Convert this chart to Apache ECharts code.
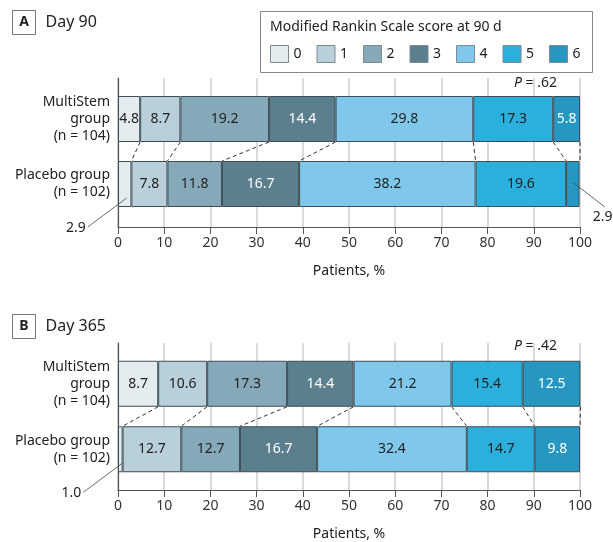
<!DOCTYPE html>
<html>
<head>
<meta charset="utf-8">
<script src="https://cdn.jsdelivr.net/npm/echarts@6/dist/echarts.min.js"></script>
<style>
  html, body { margin: 0; padding: 0; background: #fff; }
  #chart { width: 613px; height: 542px; }
</style>
</head>
<body>
<div id="chart"></div>
<script>
// data
var groups = ['MultiStem\ngroup\n(n = 104)', 'Placebo group\n(n = 102)'];
var scores = ['0', '1', '2', '3', '4', '5', '6'];
var day90Multi = [4.8, 8.7, 19.2, 14.4, 29.8, 17.3, 5.8];
var day90Placebo = [2.9, 7.8, 11.8, 16.7, 38.2, 19.6, 2.9];
var day365Multi = [8.7, 10.6, 17.3, 14.4, 21.2, 15.4, 12.5];
var day365Placebo = [1.0, 12.7, 12.7, 16.7, 32.4, 14.7, 9.8];
var pValues = ['.62', '.42'];

var colors = ['#e5ecf0', '#b9cfd9', '#85a9b8', '#5b7f8d', '#7fc8ec', '#2bb0de', '#2597c0'];
var labelColors = ['#222', '#222', '#222', '#fff', '#222', '#222', '#fff'];
var FONT = 'Noto Sans';
var BAR_W = 46;
var SMALL = 4; // segments narrower than this get a callout

var chart = echarts.init(document.getElementById('chart'));

function cumulative(arr) {
    var out = [], s = 0;
    arr.forEach(function (v) { s += v; out.push(Math.round(s * 10) / 10); });
    return out;
}

// dashed lines joining the boundaries of the two bars
function connectorData(multi, placebo) {
    var a = cumulative(multi), b = cumulative(placebo);
    return a.map(function (v, i) { return [v, 0, i == a.length - 1 ? 100 : b[i]]; });
}

function calloutData(placebo) {
    var c = cumulative(placebo), out = [];
    placebo.forEach(function (v, i) {
        if (v < SMALL) out.push([c[i] - v / 2, 1, v, i == 0 ? -1 : 1]);
    });
    return out;
}

function renderConnector(params, api) {
    var p1 = api.coord([api.value(0), 0]);
    var p2 = api.coord([api.value(2), 1]);
    return {
        type: 'line',
        shape: { x1: p1[0], y1: p1[1] + BAR_W / 2, x2: p2[0], y2: p2[1] - BAR_W / 2 },
        style: { stroke: '#333', lineWidth: 1, lineDash: [4, 3] }
    };
}

function renderCallout(params, api) {
    var p = api.coord([api.value(0), 1]);
    var dir = api.value(3);
    var txt = api.value(2).toFixed(1);
    if (dir < 0) {
        return {
            type: 'group',
            children: [
                { type: 'line', shape: { x1: p[0] + 2, y1: p[1] + 14, x2: p[0] - 37, y2: p[1] + 43 },
                  style: { stroke: '#444', lineWidth: 0.8 } },
                { type: 'text', x: p[0] - 39, y: p[1] + 44,
                  style: { text: txt, fill: '#222', font: '14px ' + FONT, align: 'right', verticalAlign: 'middle' } }
            ]
        };
    }
    return {
        type: 'group',
        children: [
            { type: 'line', shape: { x1: p[0] + 1, y1: p[1] - 1, x2: p[0] + 32, y2: p[1] + 23 },
              style: { stroke: '#444', lineWidth: 0.8 } },
            { type: 'text', x: p[0] + 20, y: p[1] + 33,
              style: { text: txt, fill: '#222', font: '14px ' + FONT, align: 'left', verticalAlign: 'middle' } }
        ]
    };
}

function barSeries(multi, placebo, axisIdx, stack) {
    return scores.map(function (s, i) {
        return {
            name: s,
            type: 'bar',
            stack: stack,
            xAxisIndex: axisIdx,
            yAxisIndex: axisIdx,
            barWidth: BAR_W,
            itemStyle: { color: colors[i], borderColor: '#3d4d56', borderWidth: 1 },
            label: {
                show: true,
                position: 'inside',
                color: labelColors[i],
                fontFamily: FONT,
                fontSize: 14,
                formatter: function (p) { return p.value < SMALL ? '' : p.value.toFixed(1); }
            },
            emphasis: { disabled: true },
            data: [multi[i], placebo[i]]
        };
    });
}

function bgX(idx) {
    return {
        gridIndex: idx, type: 'value', min: 0, max: 100, interval: 10,
        axisLine: { show: true, lineStyle: { color: '#555', width: 1.2 } },
        axisTick: { show: true, length: 7, lineStyle: { color: '#555' } },
        axisLabel: { color: '#333', fontFamily: FONT, fontSize: 14, margin: 9 },
        splitLine: { show: true, lineStyle: { color: '#dadada', width: 2 } },
        name: 'Patients, %', nameLocation: 'middle', nameGap: 37,
        nameTextStyle: { color: '#222', fontFamily: FONT, fontSize: 14 }
    };
}
function barX(idx) {
    return { gridIndex: idx, type: 'value', min: 0, max: 100, show: false };
}
function bgY(idx) {
    return {
        gridIndex: idx, type: 'value', min: 0, max: 1,
        axisLine: { show: true, lineStyle: { color: '#555', width: 1.2 } },
        axisTick: { show: false }, axisLabel: { show: false }, splitLine: { show: false }
    };
}
function barY(idx) {
    return {
        gridIndex: idx, type: 'category', data: groups, inverse: true,
        axisLine: { show: false }, axisTick: { show: false },
        axisLabel: { color: '#222', fontFamily: FONT, fontSize: 14, lineHeight: 17, margin: 8, align: 'right' }
    };
}

function panelTitle(letter, text, top) {
    return {
        type: 'group', left: 12, top: top,
        children: [
            { type: 'rect', shape: { x: 0, y: 0, width: 23, height: 24 },
              style: { fill: '#fff', stroke: '#777', lineWidth: 1 } },
            { type: 'text', x: 11.5, y: 12,
              style: { text: letter, font: 'bold 14px ' + FONT, fill: '#222', align: 'center', verticalAlign: 'middle' } },
            { type: 'text', x: 33, y: 12,
              style: { text: text, font: '16px ' + FONT, fill: '#222', align: 'left', verticalAlign: 'middle' } }
        ]
    };
}

function pText(val, top) {
    return {
        type: 'text', right: 56, top: top,
        style: {
            text: '{i|P} = ' + val,
            rich: { i: { fontStyle: 'italic', fontFamily: FONT, fontSize: 14, fill: '#222' } },
            font: '14px ' + FONT, fill: '#222'
        }
    };
}

var series = []
    .concat(barSeries(day90Multi, day90Placebo, 1, 'd90'))
    .concat(barSeries(day365Multi, day365Placebo, 3, 'd365'));

series.push({
    type: 'custom', xAxisIndex: 1, yAxisIndex: 1, clip: false, z: 5, silent: true,
    renderItem: renderConnector, encode: { x: 0, y: 1 },
    data: connectorData(day90Multi, day90Placebo)
});
series.push({
    type: 'custom', xAxisIndex: 3, yAxisIndex: 3, clip: false, z: 5, silent: true,
    renderItem: renderConnector, encode: { x: 0, y: 1 },
    data: connectorData(day365Multi, day365Placebo)
});
series.push({
    type: 'custom', xAxisIndex: 1, yAxisIndex: 1, clip: false, z: 5, silent: true,
    renderItem: renderCallout, encode: { x: 0, y: 1 },
    data: calloutData(day90Placebo)
});
series.push({
    type: 'custom', xAxisIndex: 3, yAxisIndex: 3, clip: false, z: 5, silent: true,
    renderItem: renderCallout, encode: { x: 0, y: 1 },
    data: calloutData(day365Placebo)
});

chart.setOption({
    animation: false,
    textStyle: { fontFamily: FONT },
    grid: [
        { left: 118, right: 33, top: 78, height: 149 },
        { left: 118, right: 33, top: 86.5, height: 130 },
        { left: 118, right: 33, top: 343, height: 149 },
        { left: 118, right: 33, top: 351, height: 131 }
    ],
    xAxis: [bgX(0), barX(1), bgX(2), barX(3)],
    yAxis: [bgY(0), barY(1), bgY(2), barY(3)],
    legend: {
        data: scores,
        left: 270, top: 45, padding: 0,
        itemWidth: 18, itemHeight: 17, itemGap: 15,
        icon: 'rect',
        selectedMode: false,
        itemStyle: { borderColor: '#7d8a92', borderWidth: 1 },
        textStyle: { color: '#222', fontFamily: FONT, fontSize: 14 }
    },
    graphic: [
        { type: 'rect', shape: { x: 260.5, y: 11.5, width: 332, height: 61 },
          style: { fill: '#fff', stroke: '#888', lineWidth: 1 }, z: -1 },
        { type: 'text', left: 270, top: 20,
          style: { text: 'Modified Rankin Scale score at 90 d', font: '14px ' + FONT, fill: '#222' } },
        panelTitle('A', 'Day 90', 10),
        panelTitle('B', 'Day 365', 314),
        pText(pValues[0], 76),
        pText(pValues[1], 339)
    ],
    series: series
});
</script>
</body>
</html>
